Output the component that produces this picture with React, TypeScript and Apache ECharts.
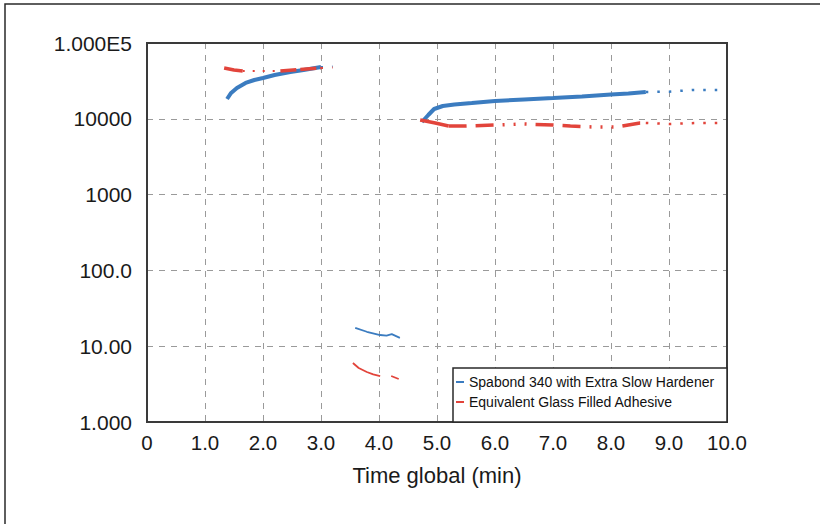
import React, { useEffect, useRef } from "react";
import * as echarts from "echarts";

const BLUE_NAME = "Spabond 340 with Extra Slow Hardener";
const RED_NAME = "Equivalent Glass Filled Adhesive";
const BLUE = "#3b7cc0";
const RED = "#e2443b";

const xTickLabels = ["0", "1.0", "2.0", "3.0", "4.0", "5.0", "6.0", "7.0", "8.0", "9.0", "10.0"];
const yTickLabels = ["1.000", "10.00", "100.0", "1000", "10000", "1.000E5"];

// Spabond (blue) runs
const spabondEarly: [number, number][] = [
  [1.38, 18250], [1.45, 21900], [1.55, 25500], [1.7, 29700], [1.85, 32500],
  [2.0, 34500], [2.2, 37800], [2.47, 41400], [2.7, 44000], [3.0, 48200],
];
const spabondEarlyTail: [number, number][] = [[3.0, 48200], [3.2, 49000]];
const spabondMid: [number, number][] = [
  [3.59, 17.5], [3.79, 15.5], [4.02, 14.05], [4.13, 13.8], [4.22, 14.4], [4.36, 12.9],
];
const spabondLate: [number, number][] = [
  [4.74, 9075], [4.85, 11220], [4.95, 13470], [5.1, 14750], [5.3, 15450], [5.6, 16150],
  [6.0, 17170], [6.5, 17980], [7.0, 18800], [7.5, 19690], [8.0, 20930], [8.3, 21560], [8.6, 22570],
];
const spabondLateTail: [number, number][] = [[8.6, 22570], [9.0, 22800], [9.4, 23990], [10.0, 23990]];

// Glass filled (red) runs
const glassEarly: [number, number][] = [[1.33, 46800], [1.5, 44000], [1.65, 42700]];
const glassEarlyDots: [number, number][] = [[1.65, 42700], [2.3, 42700]];
const glassEarlyDash: [number, number][] = [[2.3, 42700], [2.6, 44500], [3.0, 46800]];
const glassEarlyTail: [number, number][] = [[3.0, 46800], [3.2, 47500]];
const glassMid: [number, number | null][] = [
  [3.55, 6.0], [3.65, 5.16], [3.79, 4.57], [3.9, 4.24], [4.02, 4.04], [4.1, null],
  [4.21, 4.04], [4.34, 3.69],
];
const glassLateStart: [number, number][] = [[4.71, 9640], [4.97, 8810], [5.2, 8030]];
const glassLate: [number, number][] = [
  [5.2, 8030], [5.5, 8030], [6.0, 8270], [6.5, 8540], [7.0, 8270], [7.3, 8030],
  [7.7, 7800], [8.1, 7800], [8.5, 8810], [8.6, 8810],
];
const glassLateTail: [number, number][] = [[8.6, 8810], [9.0, 8540], [9.5, 8810], [10.0, 8810]];

function line(name: string, color: string, data: any[], width: number, type: any, z = 2) {
  return {
    type: "line",
    name,
    data,
    showSymbol: false,
    symbol: "none",
    connectNulls: false,
    z,
    itemStyle: { color },
    lineStyle: { color, width, type, cap: "butt" },
  };
}

export default function App() {
  const ref = useRef<HTMLDivElement>(null);
  useEffect(() => {
    if (!ref.current) return;
    const chart = echarts.init(ref.current, undefined, { renderer: "svg" });
    const font = "'Liberation Sans', Arial, sans-serif";
    const split = {
      show: true,
      showMinLine: false,
      showMaxLine: false,
      lineStyle: { color: "#9a9a9a", type: [6, 6], width: 1 },
    };
    chart.setOption({
      animation: false,
      textStyle: { fontFamily: font },
      grid: {
        left: 147, right: 93, top: 43, bottom: 102,
        show: false,
      },
      legend: {
        orient: "vertical",
        left: 456,
        top: 375,
        padding: 0,
        itemGap: 6,
        icon: "rect",
        itemWidth: 8,
        itemHeight: 2,
        z: 20,
        data: [BLUE_NAME, RED_NAME],
        textStyle: { fontSize: 14, color: "#111", fontFamily: font },
      },
      xAxis: {
        type: "value",
        min: 0,
        max: 10,
        interval: 1,
        name: "Time global (min)",
        nameLocation: "middle",
        nameGap: 42,
        nameTextStyle: { fontSize: 22, color: "#1a1a1a", fontFamily: font },
        axisLine: { show: false },
        axisTick: { show: false },
        axisLabel: {
          fontSize: 20.5, color: "#1a1a1a", margin: 10, fontFamily: font,
          formatter: (v: number) => xTickLabels[Math.round(v)] ?? "",
        },
        splitLine: split,
      },
      yAxis: {
        type: "log",
        logBase: 10,
        min: 1,
        max: 100000,
        interval: 1,
        axisLine: { show: false },
        axisTick: { show: false },
        axisLabel: {
          fontSize: 21, color: "#1a1a1a", margin: 15, fontFamily: font,
          formatter: (v: number) => yTickLabels[Math.round(Math.log10(v))] ?? "",
        },
        splitLine: split,
      },
      graphic: [
        {
          type: "rect",
          shape: { x: 5, y: 4, width: 900, height: 700 },
          style: { fill: "none", stroke: "#2a2a2a", lineWidth: 1.5 },
          silent: true,
          z: -1,
        },
        {
          type: "rect",
          shape: { x: 147, y: 43, width: 580, height: 379 },
          style: { fill: "none", stroke: "#3a3a3a", lineWidth: 2 },
          silent: true,
          z: 4,
        },
        {
          type: "rect",
          shape: { x: 453, y: 368, width: 274, height: 54 },
          style: { fill: "#fff", stroke: "#2a2a2a", lineWidth: 1.5 },
          silent: true,
          z: 5,
        },
      ],
      series: [
        line(BLUE_NAME, BLUE, spabondEarly, 4, "solid"),
        line(BLUE_NAME, BLUE, spabondEarlyTail, 2, [2, 9]),
        line(BLUE_NAME, BLUE, spabondMid, 1.8, "solid"),
        line(BLUE_NAME, BLUE, spabondLate, 4, "solid"),
        line(BLUE_NAME, BLUE, spabondLateTail, 2.5, [2.5, 9]),
        line(RED_NAME, RED, glassEarly, 3.5, "solid", 3),
        line(RED_NAME, RED, glassEarlyDots, 2, [2, 8], 3),
        line(RED_NAME, RED, glassEarlyDash, 3.5, [16, 4], 3),
        line(RED_NAME, RED, glassEarlyTail, 2, [2, 9], 3),
        line(RED_NAME, RED, glassMid, 1.8, "solid", 3),
        line(RED_NAME, RED, glassLateStart, 3.5, "solid", 3),
        line(RED_NAME, RED, glassLate, 3.5, [18, 9, 18, 9, 2, 9, 2, 9, 2, 9], 3),
        line(RED_NAME, RED, glassLateTail, 2.5, [2.5, 9], 3),
      ],
    });
    return () => chart.dispose();
  }, []);
  return <div ref={ref} style={{ width: 820, height: 524, position: "absolute", left: 0, top: 0 }} />;
}
